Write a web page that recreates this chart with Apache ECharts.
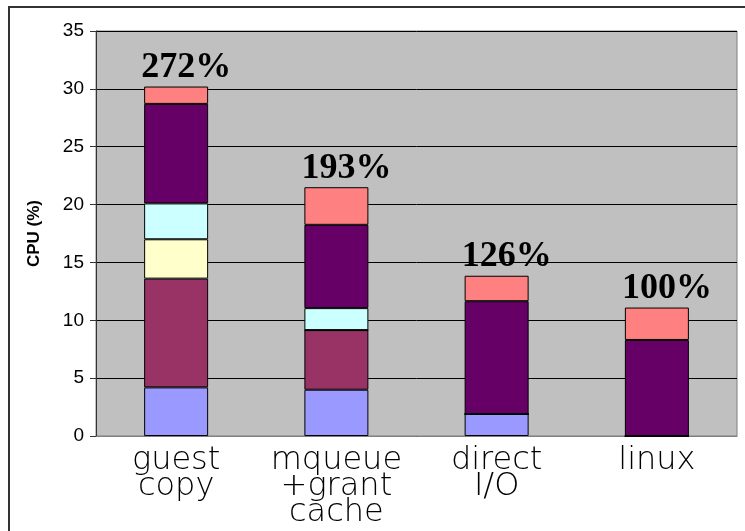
<!DOCTYPE html>
<html>
<head>
<meta charset="utf-8">
<script src="https://cdn.jsdelivr.net/npm/echarts@6/dist/echarts.min.js"></script>
<style>
  html, body { margin: 0; padding: 0; background: #fff; }
  #chart { width: 745px; height: 531px; }
</style>
</head>
<body>
<div id="chart"></div>
<script>
// Configurations compared
const categories = ['guest\ncopy', 'mqueue\n+grant\ncache', 'direct\nI/O', 'linux'];

// CPU (%) per component, stacked bottom to top
const blueSeg   = [4.2, 4.0, 1.9, 0];
const maroonSeg = [9.4, 5.15, 0, 0];
const yellowSeg = [3.4, 0, 0, 0];
const cyanSeg   = [3.1, 1.9, 0, 0];
const purpleSeg = [8.6, 7.2, 9.75, 8.3];
const pinkSeg   = [1.5, 3.25, 2.2, 2.8];

// Relative CPU cost shown above each column
const totalLabels = ['272%', '193%', '126%', '100%'];

// Y axis
const yMin = 0, yMax = 35, yStep = 5;

const segments = [
  { name: 'blue',   data: blueSeg,   color: '#9999FF' },
  { name: 'maroon', data: maroonSeg, color: '#993366' },
  { name: 'yellow', data: yellowSeg, color: '#FFFFCC' },
  { name: 'cyan',   data: cyanSeg,   color: '#CCFFFF' },
  { name: 'purple', data: purpleSeg, color: '#660066' },
  { name: 'pink',   data: pinkSeg,   color: '#FF8080' }
];

const chart = echarts.init(document.getElementById('chart'), null, { renderer: 'canvas' });

const series = segments.map((s, i) => {
  const isTop = i === segments.length - 1;
  return {
    name: s.name,
    type: 'bar',
    stack: 'cpu',
    barWidth: 64,
    data: s.data,
    silent: true,
    itemStyle: { color: s.color, borderColor: '#000', borderWidth: 1 },
    label: isTop ? {
      show: true,
      position: 'top',
      distance: 1,
      offset: [10, 0],
      formatter: p => totalLabels[p.dataIndex],
      fontFamily: 'Liberation Serif',
      fontWeight: 'bold',
      fontSize: 36,
      color: '#000'
    } : { show: false }
  };
});

chart.setOption({
  animation: false,
  backgroundColor: '#fff',
  graphic: [{
    type: 'rect',
    shape: { x: 9, y: 7, width: 800, height: 600 },
    style: { fill: 'none', stroke: '#333', lineWidth: 2 },
    silent: true,
    z: 100
  }],
  grid: {
    left: 96, right: 8, top: 31, bottom: 95,
    show: true,
    backgroundColor: '#C0C0C0',
    borderColor: '#808080',
    borderWidth: 1
  },
  xAxis: {
    type: 'category',
    data: categories,
    axisLine: { show: true, lineStyle: { color: '#808080', width: 1 } },
    axisTick: { show: false },
    axisLabel: {
      interval: 0,
      hideOverlap: false,
      margin: 12,
      fontFamily: 'DejaVu Sans',
      fontWeight: 200,
      fontSize: 32,
      lineHeight: 26,
      color: '#000'
    }
  },
  yAxis: {
    type: 'value',
    min: yMin, max: yMax, interval: yStep,
    name: 'CPU (%)',
    nameLocation: 'middle',
    nameRotate: 90,
    nameGap: 53,
    nameTextStyle: {
      fontFamily: 'Liberation Sans',
      fontWeight: 'bold',
      fontSize: 17,
      color: '#000'
    },
    axisLine: { show: true, lineStyle: { color: '#333', width: 1 } },
    axisTick: { show: true, length: 6, lineStyle: { color: '#333' } },
    axisLabel: {
      margin: 12,
      fontFamily: 'Liberation Sans',
      fontSize: 19,
      color: '#000'
    },
    splitLine: { show: true, lineStyle: { color: '#000', width: 1 } }
  },
  series: series
});
</script>
</body>
</html>
